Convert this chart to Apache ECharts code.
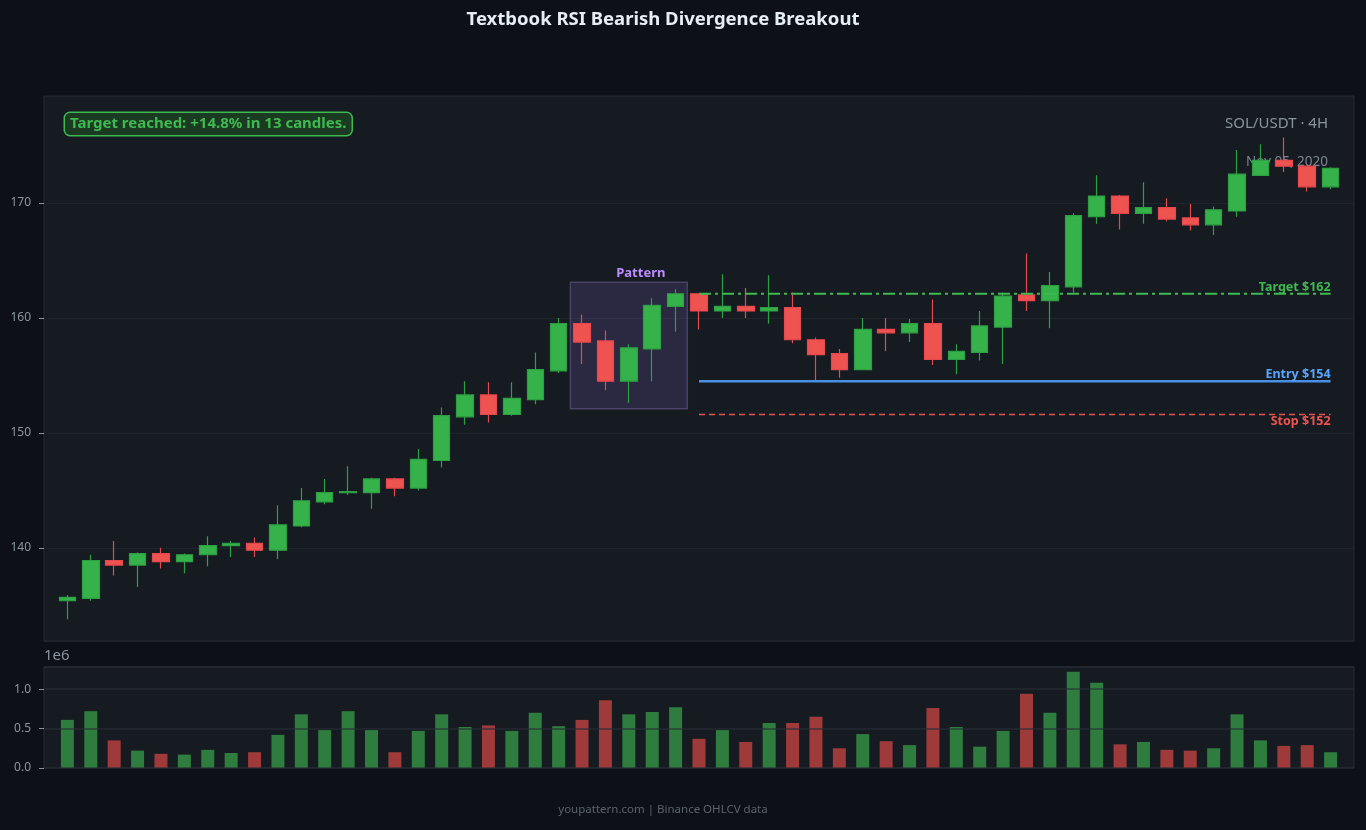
<!DOCTYPE html>
<html>
<head>
<meta charset="utf-8">
<title>Textbook RSI Bearish Divergence Breakout</title>
<script src="https://cdn.jsdelivr.net/npm/echarts@6/dist/echarts.min.js"></script>
<style>
  html, body { margin: 0; padding: 0; background: #0d1117; }
  #chart { width: 1366px; height: 830px; }
</style>
</head>
<body>
<div id="chart"></div>
<script>
// SOL/USDT 4H candles
const opens  = [135.4, 135.6, 138.9, 138.5, 139.5, 138.8, 139.4, 140.2, 140.4, 139.8,
                141.9, 144.0, 144.8, 144.8, 146.0, 145.2, 147.6, 151.4, 153.3, 151.6,
                152.9, 155.4, 159.5, 158.0, 154.5, 157.3, 161.0, 162.1, 160.6, 161.0,
                160.6, 160.9, 158.1, 156.9, 155.5, 159.0, 158.7, 159.5, 156.4, 157.0,
                159.2, 162.0, 161.5, 162.7, 168.8, 170.6, 169.1, 169.6, 168.7, 168.1,
                169.3, 172.4, 173.7, 173.2, 171.4];
const closes = [135.7, 138.9, 138.5, 139.5, 138.8, 139.4, 140.2, 140.4, 139.8, 142.0,
                144.1, 144.8, 144.9, 146.0, 145.2, 147.7, 151.5, 153.3, 151.6, 153.0,
                155.5, 159.5, 157.9, 154.5, 157.4, 161.1, 162.1, 160.6, 161.0, 160.6,
                160.9, 158.1, 156.8, 155.5, 159.0, 158.7, 159.5, 156.4, 157.1, 159.3,
                161.9, 161.5, 162.8, 168.9, 170.6, 169.1, 169.6, 168.6, 168.1, 169.4,
                172.5, 173.7, 173.2, 171.4, 173.0];
const lows   = [133.8, 135.4, 137.6, 136.6, 138.2, 137.8, 138.4, 139.2, 139.2, 139.0,
                141.8, 143.8, 144.6, 143.4, 144.5, 145.0, 147.0, 150.7, 150.9, 151.5,
                152.5, 155.2, 156.0, 153.7, 152.6, 154.5, 158.8, 159.0, 160.0, 160.0,
                159.5, 157.8, 154.6, 154.8, 155.5, 157.1, 157.9, 155.9, 155.1, 156.3,
                156.0, 160.6, 159.1, 162.2, 168.2, 167.7, 168.2, 168.4, 167.6, 167.2,
                168.8, 172.4, 172.7, 171.0, 171.2];
const highs  = [135.9, 139.4, 140.6, 139.6, 140.0, 139.5, 141.0, 140.6, 140.9, 143.7,
                145.2, 146.0, 147.1, 146.1, 146.1, 148.6, 152.2, 154.5, 154.4, 154.4,
                157.0, 160.0, 160.3, 158.9, 157.7, 161.7, 162.5, 162.1, 163.8, 162.6,
                163.7, 162.2, 158.3, 157.3, 160.0, 160.0, 159.9, 161.6, 157.7, 160.6,
                162.2, 165.6, 164.0, 169.1, 172.4, 170.7, 171.8, 170.4, 169.9, 169.7,
                174.6, 175.1, 175.7, 173.2, 173.1];
// volume, in millions (axis shows 1e6 offset)
const volumes = [0.61, 0.72, 0.35, 0.22, 0.18, 0.17, 0.23, 0.19, 0.20, 0.42,
                 0.68, 0.48, 0.72, 0.48, 0.20, 0.47, 0.68, 0.52, 0.54, 0.47,
                 0.70, 0.53, 0.61, 0.86, 0.68, 0.71, 0.77, 0.37, 0.48, 0.33,
                 0.57, 0.57, 0.65, 0.25, 0.43, 0.34, 0.29, 0.76, 0.52, 0.27,
                 0.47, 0.94, 0.70, 1.22, 1.08, 0.30, 0.33, 0.23, 0.22, 0.25,
                 0.68, 0.35, 0.28, 0.29, 0.20];

// trade levels and pattern window (candle indices)
const targetPrice = 162.1;
const entryPrice = 154.5;
const stopPrice = 151.6;
const levelStart = 27;
const levelEnd = 54;
const patternFirst = 22;
const patternLast = 26;
const patternTop = 163.1;
const patternBottom = 152.1;

const FONT = '"Noto Sans", "DejaVu Sans", sans-serif';
const GREEN = '#36b24a';
const RED = '#ef5350';

// one empty slot on each side of the candles
const slots = [];
for (let i = 0; i <= opens.length + 1; i++) slots.push(String(i));

const candleData = opens.map((o, i) => [i + 1, o, closes[i], lows[i], highs[i]]);
const volumeData = volumes.map((v, i) => ({
    value: [i + 1, v],
    itemStyle: { color: closes[i] >= opens[i] ? '#2e7d3e' : '#9e3a39' }
}));

function levelSeries(price, color, labelColor, type, width, text, pos) {
    return {
        type: 'line',
        xAxisIndex: 2,
        yAxisIndex: 0,
        symbol: 'none',
        silent: true,
        z: 3,
        lineStyle: { color: color, type: type, width: width },
        data: [[levelStart + 1, price], [levelEnd + 1, price]],
        // label sits at the right end of the level line
        markPoint: {
            silent: true,
            symbol: 'circle',
            symbolSize: 0,
            label: {
                show: true,
                formatter: text,
                position: pos,
                align: 'right',
                distance: 0,
                color: labelColor,
                fontFamily: FONT,
                fontWeight: 'bold',
                fontSize: 12.5
            },
            data: [{ coord: [levelEnd + 1, price] }]
        }
    };
}

const chart = echarts.init(document.getElementById('chart'));

const entrySeries = levelSeries(entryPrice, '#4a90e2', '#58a6ff', 'solid', 2.5, 'Entry $154', 'top');
entrySeries.markArea = {
    silent: true,
    z: 1,
    itemStyle: {
        color: 'rgba(140, 110, 220, 0.17)',
        borderColor: 'rgba(150, 130, 200, 0.35)',
        borderWidth: 1.5
    },
    label: {
        show: true,
        position: 'top',
        distance: 2,
        offset: [12, 0],
        color: '#bc8cff',
        fontFamily: FONT,
        fontWeight: 'bold',
        fontSize: 13
    },
    data: [[
        { name: 'Pattern', coord: [patternFirst + 0.5, patternTop] },
        { coord: [patternLast + 1.5, patternBottom] }
    ]]
};

const axisText = { color: '#8b949e', fontSize: 12, fontFamily: FONT, margin: 13 };
const tickStyle = { show: true, length: 5, lineStyle: { color: '#8b949e', width: 1 } };
const hiddenLine = { show: true, lineStyle: { color: 'rgba(0,0,0,0)' } };

const option = {
    backgroundColor: '#0d1117',
    animation: false,
    grid: [
        { left: 44, right: 12, top: 96, height: 545, show: true,
          backgroundColor: '#161b22', borderColor: '#262c34', borderWidth: 1 },
        { left: 44, right: 12, top: 667, height: 101, show: true,
          backgroundColor: '#161b22', borderColor: '#262c34', borderWidth: 1 }
    ],
    xAxis: [
        { type: 'category', gridIndex: 0, data: slots, boundaryGap: false,
          axisLine: { show: false }, axisTick: { show: false },
          axisLabel: { show: false }, splitLine: { show: false } },
        { type: 'category', gridIndex: 1, data: slots, boundaryGap: false,
          axisLine: { show: false }, axisTick: { show: false },
          axisLabel: { show: false }, splitLine: { show: false } },
        { type: 'value', gridIndex: 0, min: 0, max: slots.length - 1, show: false }
    ],
    yAxis: [
        { type: 'value', gridIndex: 0, min: 131.9, max: 179.3,
          axisLine: hiddenLine,
          axisTick: tickStyle,
          axisLabel: Object.assign({ showMinLabel: false, showMaxLabel: false }, axisText),
          splitLine: { lineStyle: { color: '#20252c', width: 1 } } },
        { type: 'value', gridIndex: 1, min: 0, max: 1.28, interval: 0.5, z: 5,
          axisLine: hiddenLine,
          axisTick: tickStyle,
          axisLabel: Object.assign({ showMaxLabel: false, formatter: v => v.toFixed(1) }, axisText),
          splitLine: { lineStyle: { color: 'rgba(40, 46, 54, 0.75)', width: 1.5 } } }
    ],
    series: [
        {
            type: 'candlestick',
            xAxisIndex: 0,
            yAxisIndex: 0,
            barWidth: 17,
            encode: { x: 0, y: [1, 2, 3, 4] },
            itemStyle: {
                color: GREEN, color0: RED,
                borderColor: '#2ea043', borderColor0: '#e5484d',
                borderWidth: 1.2
            },
            data: candleData
        },
        {
            type: 'bar',
            xAxisIndex: 1,
            yAxisIndex: 1,
            barWidth: 13,
            encode: { x: 0, y: 1 },
            data: volumeData
        },
        levelSeries(targetPrice, '#3fb950', '#3fb950', [12, 4, 3, 4], 2, 'Target $162', 'top'),
        entrySeries,
        levelSeries(stopPrice, '#e5534b', '#f0524f', [6, 4], 1.5, 'Stop $152', 'bottom')
    ],
    graphic: [
        { type: 'text', x: 663, y: 20, z: 10,
          style: { text: 'Textbook RSI Bearish Divergence Breakout', fill: '#e6edf3',
                   font: 'bold 18.5px ' + FONT, textAlign: 'center', textVerticalAlign: 'middle',
                   align: 'center', verticalAlign: 'middle' } },
        { type: 'text', x: 65, y: 124, z: 10,
          style: { text: 'Target reached: +14.8% in 13 candles.', fill: '#3fb950',
                   font: 'bold 15px ' + FONT, textAlign: 'left', textVerticalAlign: 'middle',
                   align: 'left', verticalAlign: 'middle',
                   backgroundColor: '#1a3a21', borderColor: '#3fb950', borderWidth: 1.5,
                   borderRadius: 5, padding: [4, 5, 3, 5] } },
        { type: 'text', x: 1328, y: 124, z: 10,
          style: { text: 'SOL/USDT · 4H', fill: '#8b949e', font: '15px ' + FONT,
                   textAlign: 'right', textVerticalAlign: 'middle',
                   align: 'right', verticalAlign: 'middle' } },
        { type: 'text', x: 1328, y: 162, z: 1,
          style: { text: 'Nov 05, 2020', fill: '#7d8590', font: '13.5px ' + FONT,
                   textAlign: 'right', textVerticalAlign: 'middle',
                   align: 'right', verticalAlign: 'middle' } },
        { type: 'text', x: 44, y: 656, z: 10,
          style: { text: '1e6', fill: '#8b949e', font: '15px ' + FONT,
                   textAlign: 'left', textVerticalAlign: 'middle',
                   align: 'left', verticalAlign: 'middle' } },
        { type: 'text', x: 663, y: 810, z: 10,
          style: { text: 'youpattern.com | Binance OHLCV data', fill: '#5a626b',
                   font: '11.5px ' + FONT, textAlign: 'center', textVerticalAlign: 'middle',
                   align: 'center', verticalAlign: 'middle' } }
    ]
};

chart.setOption(option);
</script>
</body>
</html>
